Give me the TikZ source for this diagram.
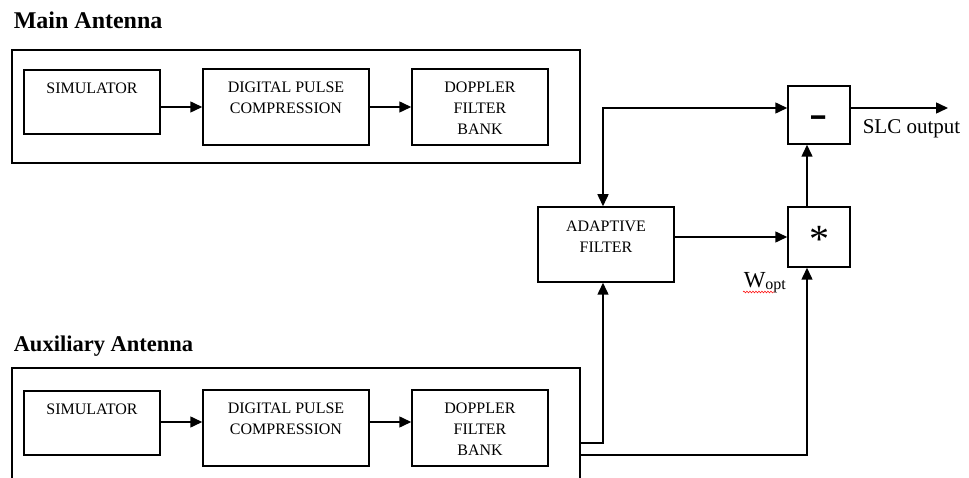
\documentclass[tikz,border=0pt]{standalone}
\usepackage{fontspec}
\setmainfont{Liberation Serif}
\usetikzlibrary{arrows.meta,positioning,calc,decorations.pathmorphing}

\begin{document}
\begin{tikzpicture}[x=1pt, y=1pt, line width=1.5pt,
  frame/.style={draw, minimum width=568pt, inner sep=0pt},
  blk/.style={draw, inner sep=0pt},
  lbl/.style={anchor=north, inner sep=0pt, align=center,
    font=\fontsize{16}{21}\selectfont},
  ttl/.style={anchor=base west, inner sep=0pt,
    font=\fontsize{24}{28}\selectfont\bfseries},
  arr/.style={-{Triangle[length=12pt, width=11pt]}},
  twoway/.style={{Triangle[length=12pt, width=11pt]}-{Triangle[length=12pt, width=11pt]}}]
  \useasboundingbox (0,0) rectangle (969,477);
  \clip (0,0) rectangle (969,477);

  % main antenna chain
  \node[ttl] (mtitle) at (13,448) {Main Antenna};
  \node[frame, minimum height=113pt] (mframe) at (296,370.5) {};
  \node[blk, minimum width=136pt, minimum height=64pt] (msim) at (92,375) {};
  \node[blk, minimum width=166pt, minimum height=76pt] (mdpc) at (286,370) {};
  \node[blk, minimum width=136pt, minimum height=76pt] (mdop) at (480,370) {};
  \node[lbl] (msimt) at ([yshift=-13pt]msim.north) {SIMULATOR};
  \node[lbl] (mdpct) at ([yshift=-13pt]mdpc.north) {DIGITAL PULSE\\COMPRESSION};
  \node[lbl] (mdopt) at ([yshift=-13pt]mdop.north) {DOPPLER\\FILTER\\BANK};
  \draw[arr] (msim.east |- mdpc.west) -- (mdpc.west);
  \draw[arr] (mdpc.east) -- (mdop.west);

  % auxiliary antenna chain
  \node[ttl, font=\fontsize{22.5}{26}\selectfont\bfseries] (atitle) at (13,126) {Auxiliary Antenna};
  \node[frame, minimum height=129pt] (aframe) at (296,44.5) {};
  \node[blk, minimum width=136pt, minimum height=64pt] (asim) at (92,54) {};
  \node[blk, minimum width=166pt, minimum height=76pt] (adpc) at (286,49) {};
  \node[blk, minimum width=136pt, minimum height=76pt] (adop) at (480,49) {};
  \node[lbl] (asimt) at ([yshift=-13pt]asim.north) {SIMULATOR};
  \node[lbl] (adpct) at ([yshift=-13pt]adpc.north) {DIGITAL PULSE\\COMPRESSION};
  \node[lbl] (adopt) at ([yshift=-13pt]adop.north) {DOPPLER\\FILTER\\BANK};
  \draw[arr] ([yshift=6pt]asim.east |- adpc.west) -- ([yshift=6pt]adpc.west);
  \draw[arr] ([yshift=6pt]adpc.east) -- ([yshift=6pt]adop.west);

  % canceller
  \node[blk, minimum width=62pt, minimum height=58pt] (minus) at (819,362) {};
  \node[blk, minimum width=62pt, minimum height=60pt] (star) at (819,240) {};
  \node[blk, minimum width=136pt, minimum height=75pt] (adapt) at (606,232.5) {};
  \node[lbl] (adaptt) at ([yshift=-14pt]adapt.north) {ADAPTIVE\\FILTER};
  \node[inner sep=0pt, font=\fontsize{42}{42}\selectfont\bfseries] (minust) at ([yshift=-7pt]minus.center) {\scalebox{1.3}[1]{-}};
  \node[inner sep=0pt, font=\fontsize{40}{40}\selectfont] (start) at ([yshift=-2pt]star.center) {*};
  \coordinate (split) at (603,369);
  \coordinate (out) at (948,369);
  \draw[arr] (minus.east |- out) -- (out);
  \node[anchor=base west, inner sep=0pt, font=\fontsize{21}{24}\selectfont] (slc) at (862,343) {SLC output};
  \draw[twoway] (adapt.north -| split) |- (minus.west |- split);
  \draw[arr] (adapt.east |- star.west) -- (star.west);
  \draw[arr] ([xshift=-12pt]star.north) -- ([xshift=-12pt]minus.south);

  % weights
  \node[anchor=base west, inner sep=0pt, font=\fontsize{23}{26}\selectfont] (wopt) at (743,189)
    {W\raisebox{-2pt}{\fontsize{16}{16}\selectfont opt}};
  \draw[red, line width=0.5pt, decorate, decoration={snake, amplitude=0.9pt, segment length=3pt}]
    ([yshift=-4pt]wopt.base west) -- ([yshift=-4pt, xshift=-12pt]wopt.base east);

  % auxiliary taps
  \draw[arr] ([yshift=-10.5pt]aframe.east) -| (adapt.south -| split);
  \draw[arr] ([yshift=-22.5pt]aframe.east) -| ([xshift=-12pt]star.south);
\end{tikzpicture}
\end{document}
